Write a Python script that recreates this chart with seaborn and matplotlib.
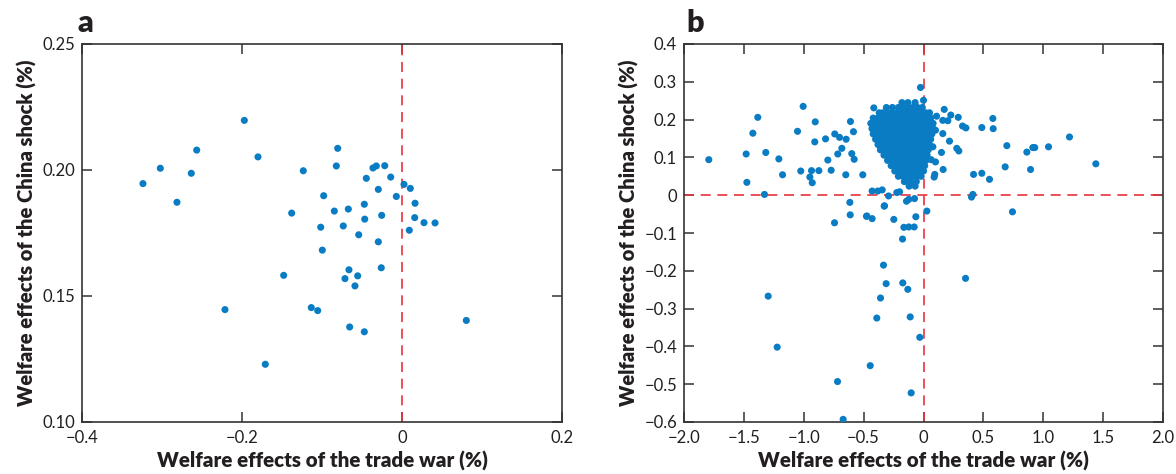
import matplotlib
matplotlib.use("Agg")
import matplotlib.pyplot as plt
import seaborn as sns
import pandas as pd
from matplotlib.ticker import FixedLocator, FuncFormatter

sns.set_style("ticks")
plt.rcParams['font.family'] = ['Lato', 'DejaVu Sans']

# ---------------- Panel a data ----------------
a_trade_war = [-0.3238, -0.3021, -0.2813, -0.2634, -0.2566, -0.1971, -0.1800, -0.1379,
               -0.1234, -0.0804, -0.0821, -0.0363, -0.0321, -0.0216, -0.0446, -0.0141,
               0.0025, 0.0104, -0.0296, -0.0979, -0.0071, 0.0163, -0.0471, -0.0846,
               -0.0671, -0.0466, -0.0254, 0.0159, 0.0275, 0.0413, -0.1016, -0.0734,
               0.0091, -0.0541, -0.0296, -0.0996, -0.1479, -0.0663, -0.0259, -0.0554,
               -0.0713, -0.0588, -0.2213, -0.1134, -0.1054, -0.0654, -0.0471, 0.0804,
               -0.1709]
a_china_shock = [0.1946, 0.2007, 0.1872, 0.1987, 0.2079, 0.2197, 0.2052, 0.1829,
                 0.1997, 0.2086, 0.2016, 0.2008, 0.2016, 0.2017, 0.1967, 0.1972,
                 0.1943, 0.1927, 0.1923, 0.1898, 0.1895, 0.1868, 0.1864, 0.1837,
                 0.1845, 0.1805, 0.1820, 0.1811, 0.1791, 0.1790, 0.1773, 0.1778,
                 0.1761, 0.1743, 0.1715, 0.1682, 0.1582, 0.1604, 0.1612, 0.1580,
                 0.1569, 0.1540, 0.1446, 0.1454, 0.1442, 0.1377, 0.1358, 0.1403,
                 0.1229]

# ---------------- Panel b data ----------------
# scattered points read individually
b_trade_war = [-1.793, -1.384, -1.425, -1.481, -1.317, -1.208, -1.177, -1.475, -1.328,
               -1.005, -0.904, -1.052, -0.908, -0.818, -0.741, -1.025, -0.935, -0.874,
               -0.949, -0.929, -0.799, -0.771, -0.649, -0.610, -0.585, -0.701, -0.646,
               -0.716, -0.682, -0.599, -0.579, -0.507, -0.615, -0.612, -0.473, -0.429,
               -0.743, -0.248, -0.326, -0.415, -0.429, -0.382, -0.345, -0.292, -0.223,
               -0.200, -0.142, -0.123, -0.075, -0.064, 0.028, -0.025, 0.000, -0.164,
               -0.123, -0.078,
               0.173, 0.228, 0.290, 0.109, 0.326, 0.354, 0.487, 0.579, 0.582, 0.696,
               0.863, 0.913, 0.929, 1.044, 1.219, 1.439, 0.682, 0.894, 0.418, 0.487,
               0.551, 0.412, 0.401, 0.743, 0.164, 0.094, 0.089, 0.217, 0.150, 0.278,
               0.295, 0.161, 0.203, 0.100, 0.161, 0.078, 0.064, 0.100,
               -0.328, -0.476, -0.175, -0.334, 0.351, -0.312, -0.173, -0.131, -1.297,
               -0.359, -0.390, -0.111, -0.031, -1.222, -0.445, -0.718, -0.103, -0.671]
b_china_shock = [0.094, 0.206, 0.164, 0.109, 0.113, 0.096, 0.054, 0.034, 0.002,
                 0.235, 0.194, 0.169, 0.141, 0.149, 0.162, 0.064, 0.065, 0.065,
                 0.048, 0.033, 0.093, 0.066, 0.054, 0.195, 0.168, 0.153, 0.148,
                 0.109, 0.124, 0.110, 0.095, 0.054, -0.019, -0.052, -0.055, -0.062,
                 -0.073, -0.064, -0.028, 0.231, 0.011, 0.011, 0.014, -0.002, 0.007,
                 0.009, -0.016, -0.011, -0.009, -0.057, -0.042, 0.285, 0.251, -0.085,
                 -0.084, -0.084,
                 0.227, 0.212, 0.206, 0.209, 0.183, 0.178, 0.179, 0.203, 0.176, 0.131,
                 0.114, 0.126, 0.126, 0.128, 0.154, 0.083, 0.075, 0.068, 0.055, 0.058,
                 0.042, 0.002, -0.005, -0.044, 0.068, 0.055, 0.048, 0.143, 0.113, 0.124,
                 0.117, 0.198, 0.197, 0.172, 0.163, 0.128, 0.094, 0.088,
                 -0.029, -0.056, -0.116, -0.185, -0.220, -0.234, -0.232, -0.249, -0.267,
                 -0.272, -0.325, -0.322, -0.376, -0.402, -0.451, -0.493, -0.523, -0.593]

# dense cluster, estimated row by row (China-shock level -> trade-war values)
blob_levels = [0.245, 0.232, 0.218, 0.204, 0.190, 0.176, 0.162, 0.148, 0.134,
               0.120, 0.106, 0.092, 0.078, 0.064, 0.050, 0.036, 0.024]
blob_rows = [
    [-0.18, -0.13, -0.07],
    [-0.31, -0.26, -0.21, -0.17, -0.13, -0.09, -0.05, -0.01],
    [-0.37, -0.34, -0.30, -0.26, -0.22, -0.18, -0.14, -0.10, -0.06, -0.02, 0.02, 0.05],
    [-0.42, -0.38, -0.34, -0.30, -0.26, -0.22, -0.18, -0.14, -0.10, -0.06, -0.02, 0.02, 0.06],
    [-0.44, -0.40, -0.36, -0.32, -0.28, -0.24, -0.20, -0.16, -0.12, -0.08, -0.04, 0.00, 0.04, 0.08],
    [-0.43, -0.39, -0.35, -0.31, -0.27, -0.23, -0.19, -0.15, -0.11, -0.07, -0.03, 0.01, 0.05, 0.08],
    [-0.42, -0.38, -0.34, -0.30, -0.26, -0.22, -0.18, -0.14, -0.10, -0.06, -0.02, 0.02, 0.07],
    [-0.40, -0.36, -0.32, -0.28, -0.24, -0.20, -0.16, -0.12, -0.08, -0.04, 0.00, 0.04, 0.06],
    [-0.38, -0.34, -0.30, -0.26, -0.22, -0.18, -0.14, -0.10, -0.06, -0.02, 0.02, 0.05],
    [-0.36, -0.32, -0.28, -0.24, -0.20, -0.16, -0.12, -0.08, -0.04, 0.00, 0.04],
    [-0.33, -0.29, -0.25, -0.21, -0.17, -0.13, -0.09, -0.05, -0.01, 0.03],
    [-0.30, -0.26, -0.22, -0.18, -0.14, -0.10, -0.06, -0.02, 0.02],
    [-0.27, -0.23, -0.19, -0.15, -0.11, -0.07, -0.03, 0.01],
    [-0.24, -0.20, -0.16, -0.12, -0.08, -0.04, 0.00],
    [-0.21, -0.17, -0.13, -0.09, -0.05, -0.02],
    [-0.16, -0.11, -0.06],
    [-0.12, -0.07],
]

a_xticks = [-0.4, -0.2, 0.0, 0.2]
a_yticks = [0.10, 0.15, 0.20, 0.25]
b_xticks = [-2.0, -1.5, -1.0, -0.5, 0.0, 0.5, 1.0, 1.5, 2.0]
b_yticks = [-0.6, -0.5, -0.4, -0.3, -0.2, -0.1, 0.0, 0.1, 0.2, 0.3, 0.4]

xlabel = "Welfare effects of the trade war (%)"
ylabel = "Welfare effects of the China shock (%)"

# ---------------- build tables ----------------
df_a = pd.DataFrame({"x": a_trade_war, "y": a_china_shock})
bx = list(b_trade_war)
by = list(b_china_shock)
for lvl, row in zip(blob_levels, blob_rows):
    for v in row:
        bx.append(v)
        by.append(lvl)
df_b = pd.DataFrame({"x": bx, "y": by})

DOT = "#0a7cc4"
RED = "#e8323c"
SPINE = "#333333"
TXT = "#231f20"

fig = plt.figure(figsize=(11.76, 4.74), dpi=100)
ax_a = fig.add_axes([82 / 1176, 52 / 474, 480 / 1176, 378 / 474])
ax_b = fig.add_axes([684 / 1176, 52 / 474, 479 / 1176, 378 / 474])


def fmt(decimals):
    def f(v, pos):
        if abs(v) < 1e-9:
            return "0"
        s = f"{abs(v):.{decimals}f}"
        return ("\u2212" + s) if v < 0 else s
    return FuncFormatter(f)


def style(ax, xt, yt, xdec, ydec, xlim, ylim):
    ax.set_xlim(*xlim)
    ax.set_ylim(*ylim)
    ax.xaxis.set_major_locator(FixedLocator(xt))
    ax.yaxis.set_major_locator(FixedLocator(yt))
    ax.xaxis.set_major_formatter(fmt(xdec))
    ax.yaxis.set_major_formatter(fmt(ydec))
    ax.tick_params(direction="in", length=7, width=1.1, color=SPINE,
                   top=True, right=True, labelsize=12, labelcolor=TXT)
    ax.tick_params(axis="x", pad=6)
    ax.tick_params(axis="y", pad=5)
    for sp in ax.spines.values():
        sp.set_visible(True)
        sp.set_color(SPINE)
        sp.set_linewidth(1.2)
    ax.set_xlabel(xlabel, fontsize=14.8, fontweight="heavy", color=TXT, labelpad=3)
    ax.set_ylabel(ylabel, fontsize=14.5, fontweight="heavy", color=TXT, labelpad=4)


# panel a
ax_a.axvline(0, color=RED, lw=1.2, ls=(0, (6, 4)), zorder=1)
sns.scatterplot(data=df_a, x="x", y="y", ax=ax_a, color=DOT, s=26,
                edgecolor="none", linewidth=0, zorder=3)
style(ax_a, a_xticks, a_yticks, 1, 2, (-0.4, 0.2), (0.10, 0.25))

# panel b
ax_b.axvline(0, color=RED, lw=1.2, ls=(0, (6, 4)), zorder=1)
ax_b.axhline(0, color=RED, lw=1.2, ls=(0, (6, 4)), zorder=1)
sns.scatterplot(data=df_b, x="x", y="y", ax=ax_b, color=DOT, s=26,
                edgecolor="none", linewidth=0, zorder=3)
style(ax_b, b_xticks, b_yticks, 1, 1, (-2.0, 2.0), (-0.6, 0.4))

fig.text(77 / 1176, 1 - 32 / 474, "a", fontsize=22, fontweight="heavy", color=TXT)
fig.text(686 / 1176, 1 - 32 / 474, "b", fontsize=22, fontweight="heavy", color=TXT)

fig.savefig("out.png", dpi=100)
